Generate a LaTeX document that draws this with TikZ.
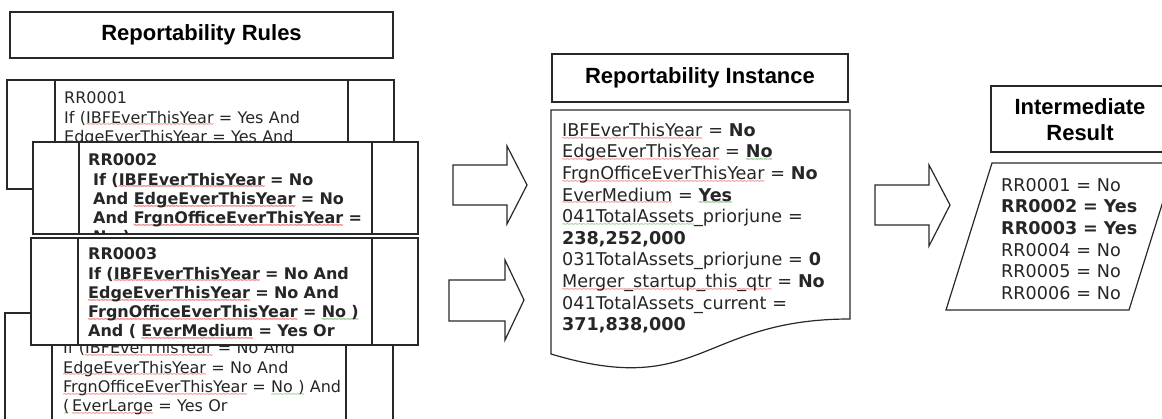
\documentclass[tikz,border=0pt]{standalone}
\usepackage{fontspec}
\setmainfont{DejaVu Sans}
\newfontfamily\headfont{Liberation Sans}
\usepackage{xcolor}
\usepackage{tikz}

\definecolor{ink}{RGB}{40,40,40}
\definecolor{spellred}{RGB}{225,40,40}
\definecolor{spellgreen}{RGB}{70,165,60}
\newsavebox\wavebox
\newcommand\wavyline[2]{\leavevmode\sbox\wavebox{#2}\rlap{\color{#1}\raisebox{-3.8pt}[0pt][0pt]{\hbox to \wd\wavebox{\fontsize{6.5}{6.5}\selectfont\xleaders\hbox{\kern-0.7pt\char"7E\kern-0.7pt}\hfil}}}\usebox\wavebox}
\newcommand\redwave[1]{\wavyline{spellred}{#1}}
\newcommand\grnwave[1]{\wavyline{spellgreen}{#1}}

\begin{document}
\begin{tikzpicture}[x=1pt,y=-1pt,
	box/.style={draw=ink,line width=1.2pt,fill=white},
	divider/.style={draw=ink,line width=1.2pt},
	title/.style={font=\headfont\bfseries\fontsize{22}{26}\selectfont,align=center},
	ruletext/.style={anchor=north west,inner sep=0pt,text width=330pt,align=left,text=black!85,font=\fontsize{16}{19.3}\selectfont},
	doctext/.style={anchor=north west,inner sep=0pt,text width=290pt,align=left,text=black!85,font=\fontsize{17.6}{21.6}\selectfont}]
	\useasboundingbox (0,0) rectangle (1162,418);
	\clip (0,0) rectangle (1162,418);
	% reportability rules
	\draw[box] (10,12) rectangle (393,58);
	\node[title] (rules title) at (201.5,35) {Reportability Rules};
	\draw[box] (7,80) rectangle (394,189);
	\draw[divider] (55,80) -- (55,189) (348,80) -- (348,189);
	\node[ruletext] (rr1 text) at (64,90) {\strut RR0001\\If (\redwave{IBFEverThisYear} = Yes And\\\redwave{EdgeEverThisYear} = Yes And};
	\draw[box] (33,142) rectangle (418,234);
	\draw[divider] (79,142) -- (79,234) (372,142) -- (372,234);
	\begin{scope}
		\clip (79,142) rectangle (372,234);
		\node[ruletext] (rr2 text) at (88,152) {\bfseries\strut RR0002\\\hspace*{5pt}If (\redwave{IBFEverThisYear} = No\\\hspace*{5pt}And \redwave{EdgeEverThisYear} = No\\\hspace*{5pt}And \redwave{FrgnOfficeEverThisYear} =\\\hspace*{5pt}\grnwave{No )}};
	\end{scope}
	\draw[box] (5,313) rectangle (393,430);
	\draw[divider] (52,313) -- (52,430) (346,313) -- (346,430);
	\node[ruletext] (rr4 text) at (63,340) {\strut If (\redwave{IBFEverThisYear} = No And\\\redwave{EdgeEverThisYear} = No And\\\redwave{FrgnOfficeEverThisYear} = \grnwave{No )} And\\\grnwave{(}\,\redwave{EverLarge} = Yes Or};
	\draw[box] (31,238) rectangle (418,345);
	\draw[divider] (78,238) -- (78,345) (372,238) -- (372,345);
	\node[ruletext] (rr3 text) at (88,246) {\bfseries\strut RR0003\\If (\redwave{IBFEverThisYear} = No And\\\redwave{EdgeEverThisYear} = No And\\\redwave{FrgnOfficeEverThisYear} = \grnwave{No )}\\And ( \redwave{EverMedium} = Yes Or};
	% block arrows
	\draw[box] (453,165) -- (507,165) -- (507,146) -- (527,185) -- (507,224) -- (507,205) -- (453,205) -- cycle;
	\draw[box] (449,280) -- (505,280) -- (505,260) -- (524,300) -- (505,340) -- (505,321) -- (449,321) -- cycle;
	\draw[box] (875,185) -- (929,185) -- (929,165) -- (950,205) -- (929,246) -- (929,225) -- (875,225) -- cycle;
	% reportability instance
	\draw[box] (552,54) rectangle (848,102);
	\node[title] (inst title) at (700,78) {Reportability Instance};
	\draw[box] (551,110) -- (850,110) -- (850,319) .. controls (700.5,319) and (700.5,399) .. (551,354) -- cycle;
	\node[doctext] (inst text) at (562,121) {\strut\redwave{IBFEverThisYear} = \textbf{No}\\
		\redwave{EdgeEverThisYear} = \textbf{\grnwave{No}}\\
		\redwave{FrgnOfficeEverThisYear} = \textbf{No}\\
		\redwave{EverMedium} = \textbf{\grnwave{Yes}}\\
		\grnwave{041TotalAssets}\_priorjune =\\
		\textbf{238,252,000}\\
		031TotalAssets\_priorjune = \textbf{0}\\
		\redwave{Merger\_startup\_this\_qtr} = \textbf{No}\\
		041TotalAssets\_current =\\
		\textbf{371,838,000}};
	% intermediate result
	\draw[box] (991,86) rectangle (1169,152);
	\node[title] (mid title) at (1080,120) {Intermediate\\Result};
	\draw[box] (992,163) -- (1175,163) -- (1129,310) -- (946,310) -- cycle;
	\node[doctext,text width=150pt] (mid text) at (1001,176) {\strut RR0001 = No\\
		\textbf{RR0002 = Yes}\\
		\textbf{RR0003 = Yes}\\
		RR0004 = No\\
		RR0005 = No\\
		RR0006 = No};
\end{tikzpicture}
\end{document}
